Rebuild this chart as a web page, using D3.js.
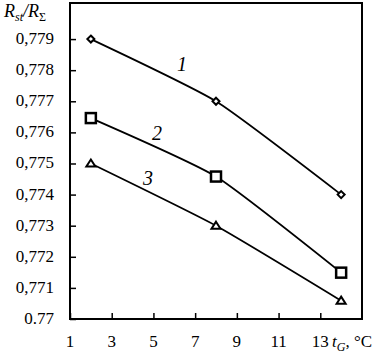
<!DOCTYPE html>
<html>
<head>
<meta charset="utf-8">
<script src="https://cdn.jsdelivr.net/npm/d3@7"></script>
<style>
  body { margin: 0; background: #fff; }
  svg text { font-family: "Liberation Serif"; }
</style>
</head>
<body>
<script>
// data
const temps = [2, 8, 14];
const series1 = [0.779, 0.777, 0.774];
const series2 = [0.77646, 0.77458, 0.77149];
const series3 = [0.775, 0.773, 0.77059];
const xTicks = [1, 3, 5, 7, 9, 11, 13];
const yTicks = [0.77, 0.771, 0.772, 0.773, 0.774, 0.775, 0.776, 0.777, 0.778, 0.779];
const curveNames = ["1", "2", "3"];

const width = 385, height = 355;
const marginLeft = 70, marginRight = 23, marginTop = 3, marginBottom = 36;

const svg = d3.select("body").append("svg")
    .attr("width", width)
    .attr("height", height);

const x = d3.scaleLinear([1, 15], [marginLeft, width - marginRight]);
const y = d3.scaleLinear([0.77, 0.78016], [height - marginBottom, marginTop]);

// frame
svg.append("rect")
    .attr("x", x(1)).attr("y", y(0.78016))
    .attr("width", x(15) - x(1)).attr("height", y(0.77) - y(0.78016))
    .attr("fill", "none").attr("stroke", "#000").attr("stroke-width", 2);

// y axis ticks (inside)
const yAxis = svg.append("g")
    .attr("transform", `translate(${x(1)},0)`)
    .call(d3.axisRight(y).tickValues(yTicks).tickSize(6).tickFormat(""));
yAxis.select(".domain").remove();
yAxis.selectAll(".tick line").attr("stroke-width", 1.5);
svg.append("g").selectAll("text")
  .data(yTicks)
  .join("text")
    .attr("x", 54)
    .attr("y", d => y(d) + 5)
    .attr("text-anchor", "end")
    .attr("font-size", 17)
    .text(d => d === 0.77 ? "0.77" : d3.format(".3f")(d).replace(".", ","));

// x axis ticks (inside)
const xAxis = svg.append("g")
    .attr("transform", `translate(0,${y(0.77)})`)
    .call(d3.axisTop(x).tickValues(xTicks).tickSize(6).tickFormat(""));
xAxis.select(".domain").remove();
xAxis.selectAll(".tick line").attr("stroke-width", 1.5);
svg.append("g").selectAll("text")
  .data(xTicks)
  .join("text")
    .attr("x", d => x(d))
    .attr("y", 347)
    .attr("text-anchor", "middle")
    .attr("font-size", 17)
    .text(d => d);

// axis titles
svg.append("text")
    .attr("x", 332).attr("y", 347)
    .attr("font-size", 17)
    .call(t => {
        t.append("tspan").attr("font-style", "italic").text("t");
        t.append("tspan").attr("font-style", "italic").attr("font-size", 12).attr("dy", 4).text("G");
        t.append("tspan").attr("dy", -4).text(", °C");
    });
svg.append("text")
    .attr("x", 4).attr("y", 17)
    .attr("font-size", 18)
    .attr("font-style", "italic")
    .call(t => {
        t.append("tspan").text("R");
        t.append("tspan").attr("font-size", 12).attr("dy", 4).text("st");
        t.append("tspan").attr("dy", -4).text("/R");
        t.append("tspan").attr("font-size", 12).attr("dy", 4).attr("font-style", "normal").text("Σ");
    });

// lines
const line = d3.line()
    .x((d, i) => x(temps[i]))
    .y(d => y(d))
    .curve(d3.curveCardinal.tension(0.5));
const allSeries = [series1, series2, series3];
svg.append("g")
    .attr("fill", "none")
    .attr("stroke", "#000")
    .attr("stroke-width", 1.8)
  .selectAll("path")
  .data(allSeries)
  .join("path")
    .attr("d", line);

// markers
const gMark = svg.append("g").attr("fill", "#fff").attr("stroke", "#000");
gMark.selectAll(".s1").data(series1).join("path")
    .attr("transform", (d, i) => `translate(${x(temps[i])},${y(d)})`)
    .attr("d", "M0,-3.5L3.5,0L0,3.5L-3.5,0Z")
    .attr("stroke-width", 2);
gMark.selectAll(".s2").data(series2).join("rect")
    .attr("x", (d, i) => x(temps[i]) - 5)
    .attr("y", d => y(d) - 5)
    .attr("width", 10).attr("height", 10)
    .attr("stroke-width", 2.5);
gMark.selectAll(".s3").data(series3).join("path")
    .attr("transform", (d, i) => `translate(${x(temps[i])},${y(d)})`)
    .attr("d", "M0,-4L4.5,3L-4.5,3Z")
    .attr("stroke-width", 2);

// curve numbers
const labelPos = [[6.37, 0.77796], [5.17, 0.77576], [4.74, 0.77431]];
svg.append("g").selectAll("text")
  .data(curveNames)
  .join("text")
    .attr("x", (d, i) => x(labelPos[i][0]))
    .attr("y", (d, i) => y(labelPos[i][1]))
    .attr("font-size", 20)
    .attr("font-style", "italic")
    .attr("text-anchor", "middle")
    .text(d => d);
</script>
</body>
</html>
